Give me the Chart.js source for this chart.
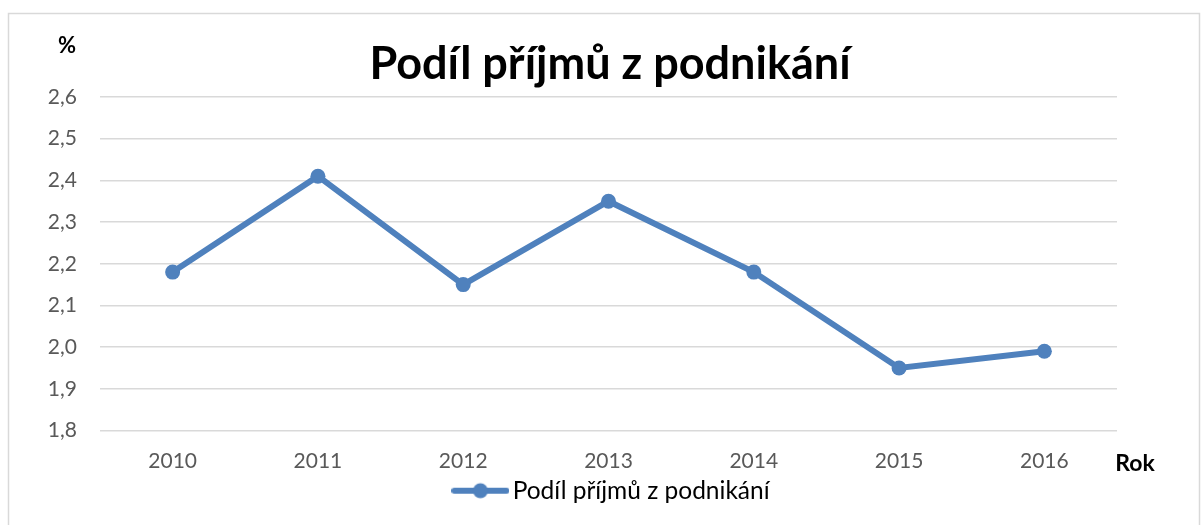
<!DOCTYPE html>
<html>
<head>
<meta charset="utf-8">
<script src="https://cdn.jsdelivr.net/npm/chart.js@4/dist/chart.umd.min.js"></script>
<style>
  html, body { margin: 0; padding: 0; background: #fff; }
  #wrap { width: 1202px; height: 525px; position: relative; }
</style>
</head>
<body>
<div id="wrap"><canvas id="c" width="1202" height="525"></canvas></div>
<script>
const years = ['2010', '2011', '2012', '2013', '2014', '2015', '2016'];
const shareValues = [2.18, 2.41, 2.15, 2.35, 2.18, 1.95, 1.99];
const seriesName = 'Podíl příjmů z podnikání';
const chartTitle = 'Podíl příjmů z podnikání';
const yAxisLabel = '%';
const xAxisLabel = 'Rok';

const FONT = 'Lato, "Open Sans", sans-serif';
const BLUE = '#4F81BD';

// legend symbol: line with circle marker
const sym = document.createElement('canvas');
sym.width = 58; sym.height = 18;
(function(){
  const g = sym.getContext('2d');
  g.strokeStyle = BLUE; g.lineWidth = 6; g.lineCap = 'round';
  g.beginPath(); g.moveTo(3, 9); g.lineTo(55, 9); g.stroke();
  g.fillStyle = BLUE; g.beginPath(); g.arc(29, 9, 7.5, 0, Math.PI * 2); g.fill();
})();

const extras = {
  id: 'extras',
  afterLayout(chart) {
    const t = chart.titleBlock;
    if (t) { const dx = 610 - (t.left + t.right) / 2; t.left += dx; t.right += dx; }
    const l = chart.legend;
    if (l) { const dx = 615 - (l.left + l.right) / 2; l.left += dx; l.right += dx; }
  },
  beforeDraw(chart) {
    const ctx = chart.ctx;
    ctx.save();
    ctx.fillStyle = '#fff';
    ctx.fillRect(0, 0, chart.width, chart.height);
    ctx.strokeStyle = '#d9d9d9';
    ctx.lineWidth = 1.5;
    ctx.strokeRect(8.5, 13.5, 1191, 530);
    ctx.restore();
  },
  afterDraw(chart) {
    const ctx = chart.ctx;
    ctx.save();
    ctx.fillStyle = '#000';
    ctx.textBaseline = 'middle';
    ctx.textAlign = 'center';
    ctx.font = 'bold 22px ' + FONT;
    ctx.fillText(yAxisLabel, 67, 46);
    ctx.font = 'bold 23px ' + FONT;
    ctx.fillText(xAxisLabel, 1135, 464);
    ctx.restore();
  }
};

new Chart(document.getElementById('c'), {
  type: 'line',
  data: {
    labels: years,
    datasets: [{
      label: seriesName,
      data: shareValues,
      borderColor: BLUE,
      backgroundColor: BLUE,
      borderWidth: 6,
      pointRadius: 7.5,
      pointHoverRadius: 7.5,
      pointBackgroundColor: BLUE,
      pointBorderWidth: 0,
      tension: 0
    }]
  },
  options: {
    responsive: false,
    animation: false,
    devicePixelRatio: 1,
    layout: { padding: { top: 20, left: 47, right: 85, bottom: 12 } },
    plugins: {
      title: {
        display: true,
        text: chartTitle,
        color: '#000',
        font: { family: FONT, size: 45, weight: 'bold' },
        padding: { top: 17, bottom: 6 }
      },
      legend: {
        display: true,
        position: 'bottom',
        labels: {
          usePointStyle: true,
          pointStyle: sym,
          pointStyleWidth: 40,
          color: '#000',
          font: { family: FONT, size: 24.5 },
          padding: 8,
          generateLabels(chart) {
            return [{ text: seriesName, pointStyle: sym, fillStyle: BLUE, strokeStyle: BLUE, lineWidth: 0, datasetIndex: 0, fontColor: '#000' }];
          }
        }
      },
      tooltip: { enabled: false }
    },
    scales: {
      x: {
        offset: true,
        grid: { display: false, drawTicks: false },
        border: { display: false },
        ticks: { color: '#595959', font: { family: FONT, size: 21 }, padding: 18, maxRotation: 0 },
        afterFit(scale) { scale.height = 40; }
      },
      y: {
        min: 1.8,
        max: 2.6,
        border: { display: false },
        grid: { color: '#d9d9d9', lineWidth: 1.5, drawTicks: false },
        ticks: {
          stepSize: 0.1,
          color: '#595959',
          font: { family: FONT, size: 21 },
          padding: 23,
          callback: v => v.toFixed(1).replace('.', ',')
        },
        afterFit(scale) { scale.width = 53; }
      }
    }
  },
  plugins: [extras]
});
</script>
</body>
</html>
